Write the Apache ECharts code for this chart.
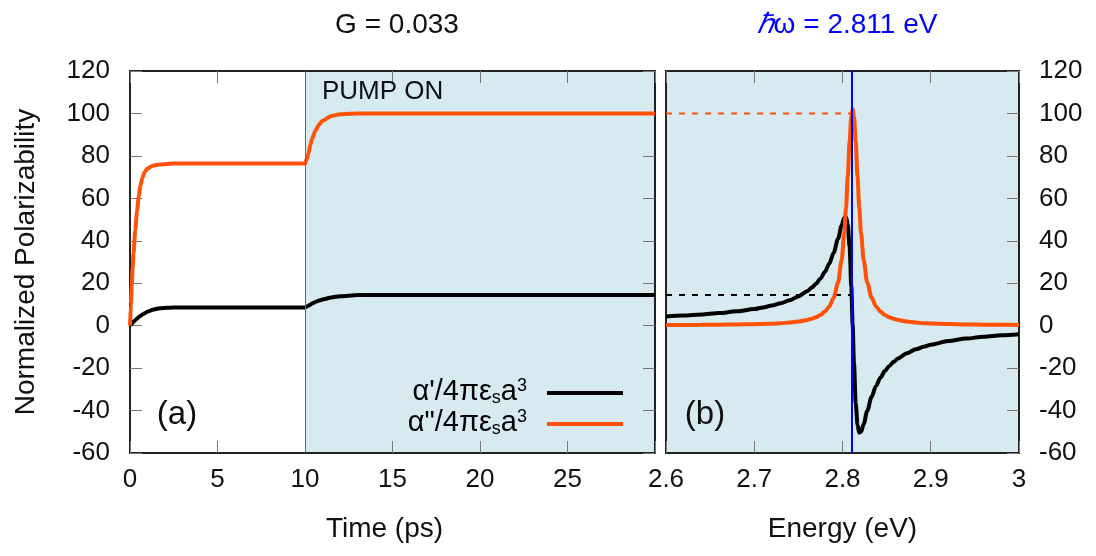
<!DOCTYPE html>
<html>
<head>
<meta charset="utf-8">
<script src="https://cdn.jsdelivr.net/npm/echarts@6/dist/echarts.min.js"></script>
<style>
  html, body { margin: 0; padding: 0; background: #fff; }
  #chart { width: 1096px; height: 556px; }
</style>
</head>
<body>
<div id="chart"></div>
<script>
// panel (a): time evolution, pump switched on at 10 ps
const timePs = [0, 0.05, 0.1, 0.15, 0.2, 0.3, 0.4, 0.5, 0.6, 0.7, 0.85, 1.0, 1.3, 1.7, 2.5, 5, 10,
  10.1, 10.2, 10.3, 10.4, 10.6, 10.8, 11, 11.5, 12, 13, 15, 20, 30]
const alphaReTime = [0, 0.45, 0.9, 1.35, 1.8, 2.6, 3.3, 4.0, 4.6, 5.2, 5.9, 6.6, 7.5, 8.2, 8.6, 8.6, 8.6,
  9.0, 9.4, 9.9, 10.4, 11.2, 11.8, 12.3, 13.3, 13.9, 14.4, 14.5, 14.5, 14.5]
const alphaImTime = [0, 10, 19, 27, 34, 45, 54, 61, 66, 69.5, 72.5, 74, 75.4, 76, 76.4, 76.4, 76.4,
  78.5, 81, 85, 88, 92, 94.7, 96.5, 98.8, 99.6, 100, 100, 100, 100]
const pumpOnPs = 10

// panel (b): spectrum
const energyEv = [2.60, 2.62, 2.64, 2.66, 2.68, 2.70, 2.71, 2.72, 2.73, 2.74,
  2.75, 2.76, 2.765, 2.77, 2.775, 2.78, 2.785, 2.79, 2.795, 2.799,
  2.802, 2.804, 2.806, 2.808, 2.810, 2.8115, 2.813, 2.815, 2.817, 2.819,
  2.821, 2.824, 2.828, 2.833, 2.838, 2.843, 2.848, 2.853, 2.858, 2.863,
  2.873, 2.883, 2.893, 2.90, 2.92, 2.94, 2.96, 2.98, 3.00]
const alphaReEnergy = [4.35, 4.76, 5.27, 5.91, 6.74, 7.86, 8.59, 9.47, 10.56, 11.95,
  13.76, 16.24, 17.85, 19.8, 22.2, 25.3, 29.2, 34.4, 41.0, 47.2,
  50.9, 51.2, 47.6, 37.3, 18.5, 0.4, -17.7, -36.5, -46.8, -50.4,
  -50.0, -46.4, -40.2, -33.5, -28.4, -24.5, -21.4, -19.0, -17.05, -15.44,
  -12.96, -11.15, -9.76, -8.97, -7.26, -6.08, -5.21, -4.55, -4.03]
const alphaImEnergy = [0.3, 0.34, 0.38, 0.45, 0.55, 0.7, 0.81, 0.96, 1.17, 1.47,
  1.93, 2.67, 3.23, 3.98, 5.05, 6.63, 9.05, 13.15, 20.35, 30.85,
  43.65, 55.65, 70.45, 86.45, 98.85, 102.1, 98.85, 86.45, 70.45, 55.65,
  43.65, 30.85, 20.35, 13.15, 9.05, 6.63, 5.05, 3.98, 3.23, 2.67,
  1.93, 1.47, 1.17, 1.02, 0.73, 0.56, 0.46, 0.39, 0.34]
const probeEnergy = 2.811
const steadyRe = 14.5
const steadyIm = 100

const FONT = 'Liberation Sans, Arial, sans-serif'
const BLACK = '#000000'
const ORANGE = '#ff5207'
const SHADE = '#d6eaf0'
const FRAME = '#222222'
const TICK = '#777777'

const zip = (xs, ys) => xs.map((x, i) => [x, ys[i]])

const chart = echarts.init(document.getElementById('chart'))

const frameLine = { show: true, onZero: false, lineStyle: { color: FRAME, width: 2 } }
const ticks = { show: true, inside: true, length: 12, lineStyle: { color: TICK, width: 1 } }
const noTicks = { show: false }
const labelStyle = { fontSize: 26, fontFamily: FONT, color: '#111' }

const yRange = { type: 'value', min: -60, max: 120, interval: 20, splitLine: { show: false }, z: 3 }
const tRange = { type: 'value', min: 0, max: 30, interval: 5, splitLine: { show: false }, z: 3 }
const eRange = { type: 'value', min: 2.6, max: 3.0, interval: 0.1, splitLine: { show: false }, z: 3 }

const legendRich = {
  m: { fontSize: 29, lineHeight: 30, fontFamily: FONT, color: '#000' },
  s: { fontSize: 18, lineHeight: 14, fontFamily: FONT, color: '#000', verticalAlign: 'bottom' },
  p: { fontSize: 18, lineHeight: 12, fontFamily: FONT, color: '#000', verticalAlign: 'top' }
}

const option = {
  animation: false,
  backgroundColor: '#fff',
  title: [
    {
      text: 'G = 0.033', left: 392, top: 6, textAlign: 'center',
      textStyle: { fontSize: 28, fontWeight: 'normal', fontFamily: FONT, color: '#111' }
    },
    {
      text: '{h|ℏ}ω = 2.811 eV', left: 842, top: 6, textAlign: 'center',
      textStyle: {
        fontSize: 28, fontWeight: 'normal', fontFamily: FONT, color: '#0000ff',
        rich: { h: { fontSize: 28, fontStyle: 'italic', fontFamily: FONT, color: '#0000ff' } }
      }
    }
  ],
  grid: [
    { left: 130, right: 441, top: 71, bottom: 103, show: true, backgroundColor: '#fff', borderWidth: 0 },
    { left: 666, right: 77, top: 71, bottom: 103, show: true, backgroundColor: SHADE, borderWidth: 0 }
  ],
  xAxis: [
    {
      ...tRange, gridIndex: 0, position: 'bottom',
      axisLine: frameLine, axisTick: ticks,
      axisLabel: { ...labelStyle, margin: 14, formatter: v => (v === 30 ? '' : String(v)) },
      name: 'Time (ps)', nameLocation: 'middle', nameGap: 62,
      nameTextStyle: { fontSize: 28, fontFamily: FONT, color: '#111', padding: [0, 16, 0, 0] }
    },
    { ...tRange, gridIndex: 0, position: 'top', axisLine: frameLine, axisTick: ticks, axisLabel: { show: false } },
    {
      ...eRange, gridIndex: 1, position: 'bottom',
      axisLine: frameLine, axisTick: ticks,
      axisLabel: { ...labelStyle, margin: 14 },
      name: 'Energy (eV)', nameLocation: 'middle', nameGap: 62,
      nameTextStyle: { fontSize: 28, fontFamily: FONT, color: '#111' }
    },
    { ...eRange, gridIndex: 1, position: 'top', axisLine: frameLine, axisTick: ticks, axisLabel: { show: false } }
  ],
  yAxis: [
    {
      ...yRange, gridIndex: 0, position: 'left',
      axisLine: frameLine, axisTick: ticks,
      axisLabel: { ...labelStyle, margin: 20 },
      name: 'Normalized Polarizability', nameLocation: 'middle', nameGap: 90,
      nameTextStyle: { fontSize: 28, fontFamily: FONT, color: '#111' }
    },
    { ...yRange, gridIndex: 0, position: 'right', axisLine: frameLine, axisTick: ticks, axisLabel: { show: false } },
    {
      ...yRange, gridIndex: 1, position: 'right',
      axisLine: frameLine, axisTick: ticks,
      axisLabel: { ...labelStyle, margin: 20 }
    },
    { ...yRange, gridIndex: 1, position: 'left', axisLine: frameLine, axisTick: noTicks, axisLabel: { show: false } }
  ],
  series: [
    {
      name: "α'", type: 'line', xAxisIndex: 0, yAxisIndex: 0,
      data: zip(timePs, alphaReTime),
      symbol: 'none', smooth: 0.2, smoothMonotone: 'x',
      lineStyle: { color: BLACK, width: 4 }, itemStyle: { color: BLACK },
      markArea: {
        silent: true,
        itemStyle: { color: SHADE },
        data: [[{ xAxis: pumpOnPs }, { xAxis: 30 }]]
      },
      markLine: {
        silent: true, symbol: 'none', label: { show: false },
        lineStyle: { color: '#666', width: 1, type: 'solid' },
        data: [{ xAxis: pumpOnPs }]
      }
    },
    {
      name: "α''", type: 'line', xAxisIndex: 0, yAxisIndex: 0,
      data: zip(timePs, alphaImTime),
      symbol: 'none', smooth: 0.2, smoothMonotone: 'x',
      lineStyle: { color: ORANGE, width: 4 }, itemStyle: { color: ORANGE }
    },
    {
      name: 'steadyIm', type: 'line', xAxisIndex: 2, yAxisIndex: 2,
      data: [[2.6, steadyIm], [probeEnergy, steadyIm]],
      symbol: 'none',
      lineStyle: { color: ORANGE, width: 2, type: [6, 7] }
    },
    {
      name: 'steadyRe', type: 'line', xAxisIndex: 2, yAxisIndex: 2,
      data: [[2.6, steadyRe], [probeEnergy, steadyRe]],
      symbol: 'none',
      lineStyle: { color: BLACK, width: 2, type: [6, 7] }
    },
    {
      name: "α'", type: 'line', xAxisIndex: 2, yAxisIndex: 2,
      data: zip(energyEv, alphaReEnergy),
      symbol: 'none', smooth: 0.3, smoothMonotone: 'x',
      lineStyle: { color: BLACK, width: 4 }, itemStyle: { color: BLACK }
    },
    {
      name: "α''", type: 'line', xAxisIndex: 2, yAxisIndex: 2,
      data: zip(energyEv, alphaImEnergy),
      symbol: 'none', smooth: 0.3, smoothMonotone: 'x',
      lineStyle: { color: ORANGE, width: 4 }, itemStyle: { color: ORANGE }
    },
    {
      // probe photon energy marker, drawn over the curves
      name: 'probe', type: 'line', xAxisIndex: 2, yAxisIndex: 2, z: 4,
      data: [],
      markLine: {
        silent: true, symbol: 'none', label: { show: false },
        lineStyle: { color: '#0000ff', width: 2, type: 'solid' },
        data: [{ xAxis: probeEnergy }]
      }
    }
  ],
  graphic: [
    {
      type: 'text', z: 10,
      style: { text: 'PUMP ON', x: 322, y: 92, textVerticalAlign: 'middle', fontSize: 26, fontFamily: FONT, fill: '#111' }
    },
    {
      type: 'text', z: 10,
      style: { text: '(a)', x: 177, y: 415, textAlign: 'center', textVerticalAlign: 'middle', fontSize: 33, fontFamily: FONT, fill: '#111' }
    },
    {
      type: 'text', z: 10,
      style: { text: '(b)', x: 705, y: 415, textAlign: 'center', textVerticalAlign: 'middle', fontSize: 33, fontFamily: FONT, fill: '#111' }
    },
    {
      type: 'text', z: 10,
      style: {
        text: "{m|α'/4πε}{s|s}{m|a}{p|3}", x: 527, y: 392,
        textAlign: 'right', textVerticalAlign: 'middle', rich: legendRich
      }
    },
    {
      type: 'text', z: 10,
      style: {
        text: '{m|α"/4πε}{s|s}{m|a}{p|3}', x: 527, y: 423,
        textAlign: 'right', textVerticalAlign: 'middle', rich: legendRich
      }
    },
    {
      type: 'line', z: 10,
      shape: { x1: 547, y1: 393, x2: 623, y2: 393 },
      style: { stroke: BLACK, lineWidth: 4 }
    },
    {
      type: 'line', z: 10,
      shape: { x1: 547, y1: 424, x2: 623, y2: 424 },
      style: { stroke: ORANGE, lineWidth: 4 }
    }
  ]
}

chart.setOption(option)
window.addEventListener('resize', () => chart.resize())
</script>
</body>
</html>
